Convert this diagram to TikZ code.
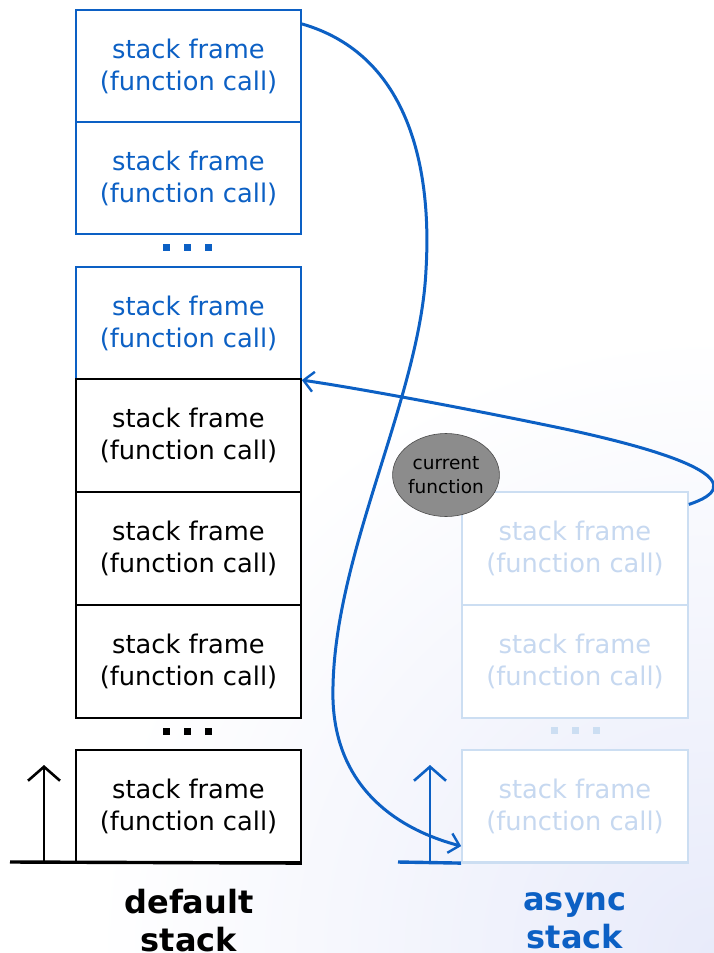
\documentclass[tikz,border=0pt]{standalone}
\usepackage{fontspec}
\setmainfont{DejaVu Sans}
\usetikzlibrary{arrows.meta,shapes.geometric}
\definecolor{callblue}{RGB}{12,96,196}
\definecolor{paleframe}{RGB}{204,222,242}
\definecolor{paletext}{RGB}{198,216,240}
\definecolor{bgtint}{RGB}{232,235,250}
\tikzset{
  framebox/.style={draw, line width=1.7pt, fill=white, minimum width=225pt,
    minimum height=112.5pt, inner sep=0pt, align=center,
    font=\fontsize{25.7}{32}\selectfont},
  bluebox/.style={framebox, draw=callblue, text=callblue},
  blackbox/.style={framebox, draw=black, text=black},
  palebox/.style={framebox, draw=paleframe, text=paletext, minimum width=226pt},
  dotmark/.style={fill, minimum size=7pt, inner sep=0pt},
  stacklabel/.style={align=center, font=\fontsize{32}{38}\selectfont\bfseries},
  growarrow/.style={line width=2.8pt, -{Straight Barb[length=14pt,width=32pt,line width=2.6pt]}},
  linkcurve/.style={draw=callblue, line width=3pt,
    -{Straight Barb[length=10pt,width=20pt,line width=2.4pt]}}
}
\begin{document}
\begin{tikzpicture}[x=1pt,y=-1pt]
\useasboundingbox (0,0) rectangle (714,953);
% white slide with a faint tint in the lower right corner
\fill[white] (0,0) rectangle (714,953);
\begin{scope}
  \clip (0,0) rectangle (714,953);
  \shade[inner color=bgtint, outer color=white] (714,953) circle (620pt);
\end{scope}

% default stack
\node[bluebox]  (f1) at (188.5,66)    {stack frame\\(function call)};
\node[bluebox]  (f2) at (188.5,178)   {stack frame\\(function call)};
\node[dotmark, callblue] (d1a) at (166,247) {};
\node[dotmark, callblue] (d1b) at (187.5,247) {};
\node[dotmark, callblue] (d1c) at (208,247) {};
\node[bluebox]  (f3) at (188.5,323)   {stack frame\\(function call)};
\node[blackbox] (f4) at (188.5,435.5) {stack frame\\(function call)};
\node[blackbox] (f5) at (188.5,548.5) {stack frame\\(function call)};
\node[blackbox] (f6) at (188.5,661.5) {stack frame\\(function call)};
\node[dotmark, black] (d2a) at (166,731) {};
\node[dotmark, black] (d2b) at (187.5,731) {};
\node[dotmark, black] (d2c) at (208,731) {};
\node[blackbox] (f7) at (188.5,806)   {stack frame\\(function call)};
\coordinate (base1) at (10,862);
\draw[line width=3.4pt] (base1) -- (f7.south east);
\coordinate (up1a) at (44,862);
\coordinate (up1b) at (44,765);
\draw[growarrow] (up1a) -- (up1b);
\node[stacklabel] (lbl1) at (189,921) {default\\stack};

% async stack
\node[palebox] (a1) at (575,548.5) {stack frame\\(function call)};
\node[palebox] (a2) at (575,661.5) {stack frame\\(function call)};
\node[dotmark, paleframe] (d3a) at (554,730) {};
\node[dotmark, paleframe] (d3b) at (575,730) {};
\node[dotmark, paleframe] (d3c) at (596,730) {};
\node[palebox] (a3) at (575,806) {stack frame\\(function call)};
\coordinate (base2) at (398,862);
\draw[callblue, line width=3.4pt] (base2) -- (a3.south west);
\draw[paleframe, line width=2.2pt] (a3.south west) -- (a3.south east);
\coordinate (up2a) at (430,862);
\coordinate (up2b) at (430,765);
\draw[growarrow, callblue] (up2a) -- (up2b);
\node[stacklabel, text=callblue] (lbl2) at (575,921) {async\\stack};

% current function marker
\node[ellipse, draw=black!70, fill=black!45, line width=0.6pt,
  minimum width=98pt, minimum height=83pt, inner sep=0pt, align=center,
  font=\fontsize{18.5}{24}\selectfont] (cur) at (446,475) {current\\function};

% links between the stacks
\draw[linkcurve] ([yshift=-15pt]f1.north east)
  .. controls (410,55) and (432,170) .. (426,270)
  .. controls (420,400) and (330,560) .. (333,700)
  .. controls (336,790) and (400,830) .. ([yshift=17pt]a3.south west);
\draw[linkcurve] ([yshift=-13pt]a1.north east)
  .. controls (748,485) and (700,458) .. (565,429)
  .. controls (455,406) and (350,387) .. (f3.south east);
\end{tikzpicture}
\end{document}
